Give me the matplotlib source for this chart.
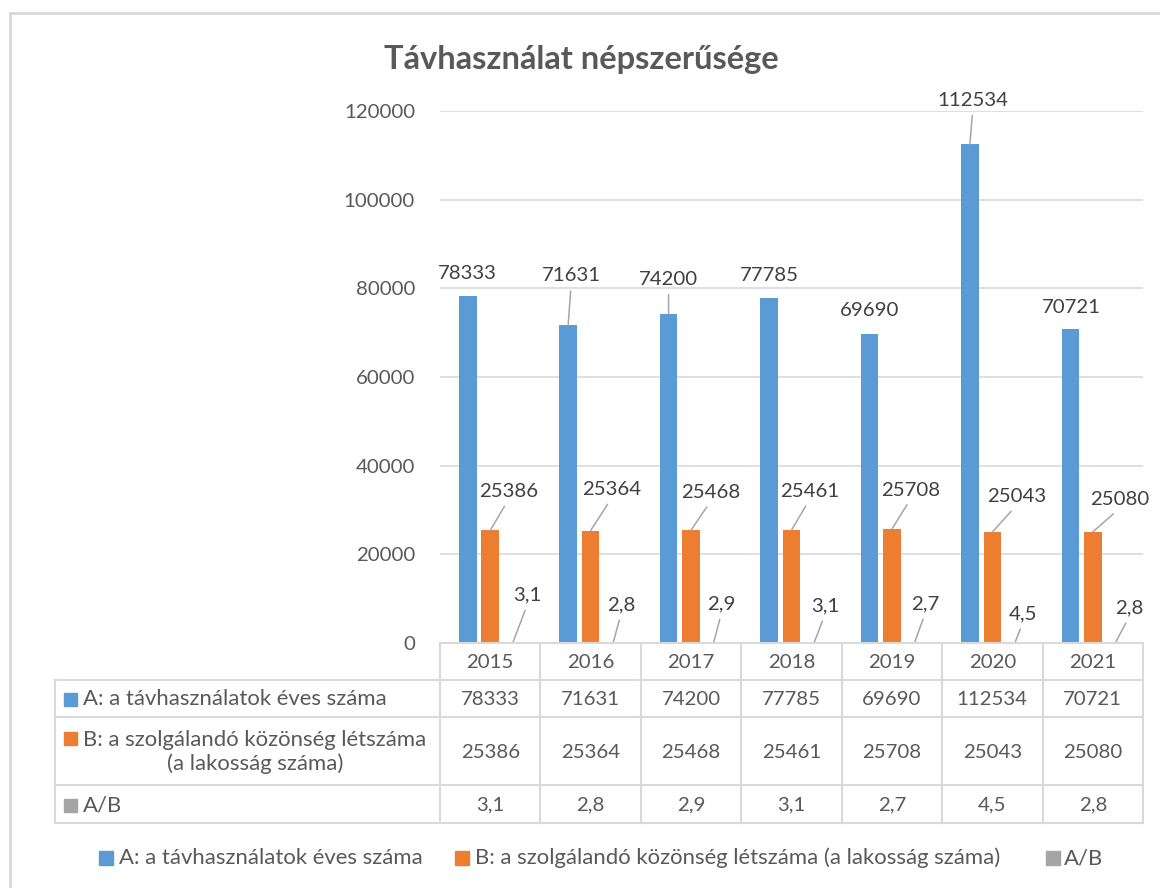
import matplotlib
matplotlib.use("Agg")
import matplotlib.pyplot as plt
from matplotlib.patches import Rectangle
from matplotlib.lines import Line2D
import numpy as np

# ---------------- data ----------------
years = ["2015", "2016", "2017", "2018", "2019", "2020", "2021"]
series_A = [78333, 71631, 74200, 77785, 69690, 112534, 70721]
series_B = [25386, 25364, 25468, 25461, 25708, 25043, 25080]
series_AB = [3.1, 2.8, 2.9, 3.1, 2.7, 4.5, 2.8]
name_A = "A: a távhasználatok éves száma"
name_B = "B: a szolgálandó közönség létszáma (a lakosság száma)"
name_B_table = "B: a szolgálandó közönség létszáma\n(a lakosság száma)"
name_AB = "A/B"
title = "Távhasználat népszerűsége"
yticks = [0, 20000, 40000, 60000, 80000, 100000, 120000]

# ---------------- style ----------------
plt.rcParams["font.family"] = ["Lato", "DejaVu Sans"]
C_A, C_B, C_AB = "#5B9BD5", "#ED7D31", "#A5A5A5"
GRID = "#D9D9D9"
TXT = "#595959"
LBL = "#404040"
FS = 14.7      # numbers
FT = 15.9      # words

W, H = 1160, 888
fig = plt.figure(figsize=(W / 100, H / 100), dpi=100)
fig.patch.set_facecolor("white")


def fx(px):
    return px / W


def fy(py):
    return 1 - py / H


X0, X1, YT, YB = 440, 1143, 111, 643
ax = fig.add_axes([fx(X0), fy(YB), (X1 - X0) / W, (YB - YT) / H])
ax.set_xlim(-0.5, len(years) - 0.5)
ax.set_ylim(0, 120000)
for s in ax.spines.values():
    s.set_visible(False)
ax.set_xticks([])
ax.set_yticks(yticks)
ax.set_yticklabels([str(t) for t in yticks])
ax.tick_params(axis="y", length=0, pad=18, labelsize=FS, labelcolor=TXT)
ax.yaxis.grid(True, color=GRID, lw=1.2)
ax.set_axisbelow(True)

x = np.arange(len(years))
off, bw = 0.224, 0.175
ax.bar(x - off, series_A, width=bw, color=C_A, zorder=2)
ax.bar(x, series_B, width=bw, color=C_B, zorder=2)
ax.bar(x + off, series_AB, width=bw, color=C_AB, zorder=2)

# label offsets in pixels (dx, dy up) from bar top; leader flag
offs_A = [(0, 24, False), (3, 52, True), (0, 37, True), (0, 25, False),
          (0, 26, False), (3, 46, True), (1, 24, False)]
offs_B = [(18, 41), (21, 43), (20, 40), (18, 41), (19, 41), (24, 37), (27, 34)]
offs_C = [(15, 50), (8, 40), (8, 41), (11, 39), (11, 41), (8, 31), (14, 37)]

leader = dict(arrowstyle="-", color="#A6A6A6", lw=1.1, shrinkA=3, shrinkB=0,
              relpos=(0.5, 0))


def fmt(v):
    if isinstance(v, float):
        return ("%.1f" % v).replace(".", ",")
    return str(v)


for i in range(len(years)):
    dx, dy, lead = offs_A[i]
    ax.annotate(fmt(series_A[i]), xy=(x[i] - off, series_A[i]), xytext=(dx, dy - 2),
                textcoords="offset pixels", ha="center", va="center", fontsize=FS,
                color=LBL, annotation_clip=False,
                arrowprops=leader if lead else None)
    dx, dy = offs_B[i]
    ax.annotate(fmt(series_B[i]), xy=(x[i], series_B[i]), xytext=(dx, dy - 2),
                textcoords="offset pixels", ha="center", va="center", fontsize=FS,
                color=LBL, annotation_clip=False, arrowprops=leader)
    dx, dy = offs_C[i]
    ax.annotate(fmt(series_AB[i]), xy=(x[i] + off, series_AB[i]), xytext=(dx, dy - 2),
                textcoords="offset pixels", ha="center", va="center", fontsize=FS,
                color=LBL, annotation_clip=False, arrowprops=leader)

# ---------------- overlay (table, legend, border, title) ----------------
ov = fig.add_axes([0, 0, 1, 1])
ov.set_xlim(0, W)
ov.set_ylim(H, 0)
ov.set_axis_off()
ov.patch.set_alpha(0)


def hl(y, xa, xb, lw=1.5):
    ov.add_line(Line2D([xa, xb], [y, y], color=GRID, lw=lw))


def vl(xv, ya, yb, lw=1.5):
    ov.add_line(Line2D([xv, xv], [ya, yb], color=GRID, lw=lw))


# chart border
hl(13, 10, W, lw=2)
vl(10, 13, H, lw=2)

# table geometry
TL = 55
rows_y = [643, 680, 717, 785, 823]
ncol = len(years)
colw = (X1 - X0) / ncol
col_x = [X0 + k * colw for k in range(ncol + 1)]
hl(rows_y[0], X0, X1)
for yv in rows_y[1:]:
    hl(yv, TL, X1)
for xv in col_x:
    vl(xv, rows_y[0], rows_y[-1])
vl(TL, rows_y[1], rows_y[-1])

for k, yr in enumerate(years):
    cx = (col_x[k] + col_x[k + 1]) / 2
    ov.text(cx, 662, yr, ha="center", va="center", fontsize=FS, color=TXT)
    ov.text(cx, 699, fmt(series_A[k]), ha="center", va="center", fontsize=FS, color=TXT)
    ov.text(cx, 752, fmt(series_B[k]), ha="center", va="center", fontsize=FS, color=TXT)
    ov.text(cx, 805, fmt(series_AB[k]), ha="center", va="center", fontsize=FS, color=TXT)

SQ = 13
ov.add_patch(Rectangle((64, 699 - SQ / 2), SQ, SQ, color=C_A))
ov.text(83, 699, name_A, ha="left", va="center", fontsize=FT, color=TXT)
ov.add_patch(Rectangle((64, 738 - SQ / 2), SQ, SQ, color=C_B))
ov.text(255, 752, name_B_table, ha="center", va="center", fontsize=FT, color=TXT,
        multialignment="center", linespacing=1.2)
ov.add_patch(Rectangle((64, 805 - SQ / 2), SQ, SQ, color=C_AB))
ov.text(83, 805, name_AB, ha="left", va="center", fontsize=FT, color=TXT)

# legend
LY = 858
for sx, tx, c, name in [(99, 119, C_A, name_A), (455, 475, C_B, name_B),
                        (1046, 1064, C_AB, name_AB)]:
    ov.add_patch(Rectangle((sx, LY - 7), 14, 14, color=c))
    ov.text(tx, LY, name, ha="left", va="center", fontsize=FT, color=TXT)

# title
ov.text(581, 60, title, ha="center", va="center", fontsize=23.5, fontweight="bold",
        color=TXT)

fig.savefig("out.png", dpi=100)
